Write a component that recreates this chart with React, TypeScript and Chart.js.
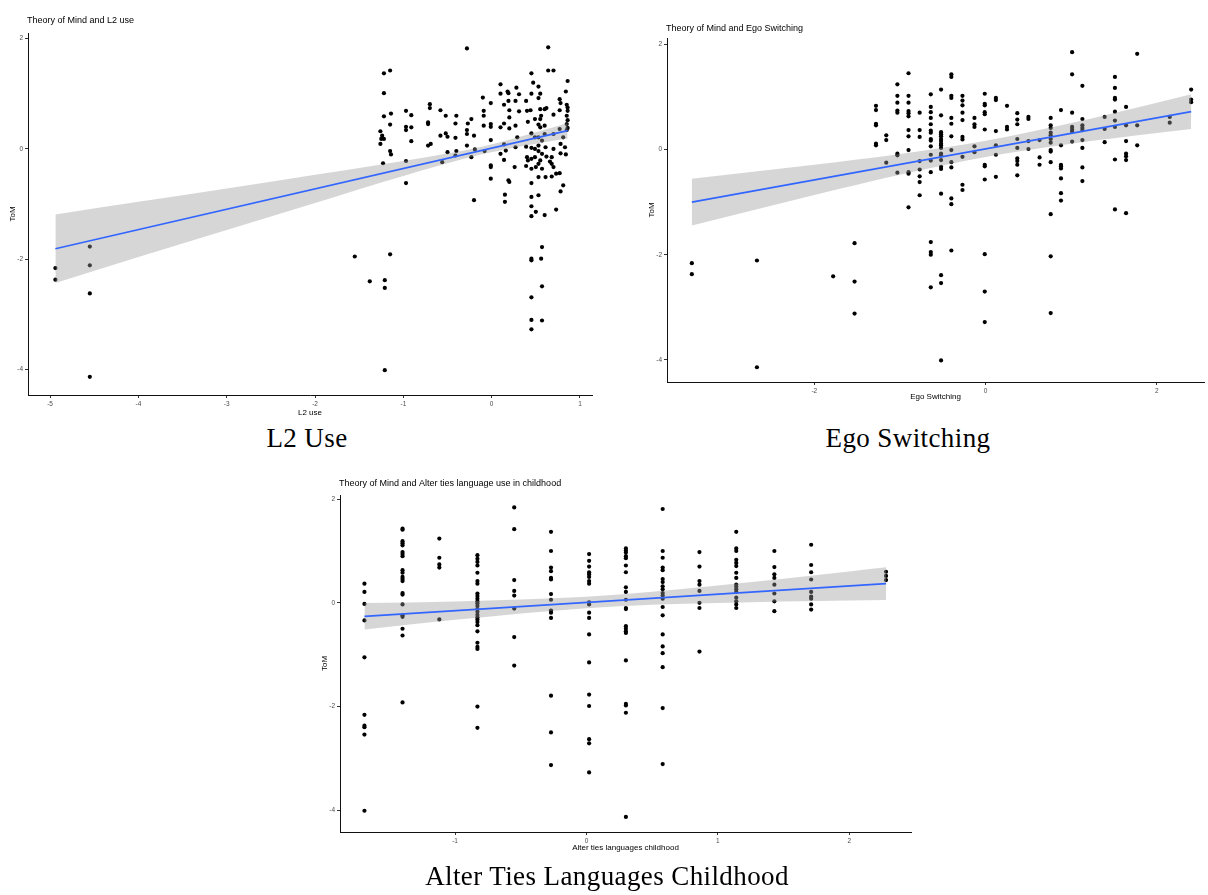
import React, { useEffect, useRef } from "react";
import { Chart, registerables } from "chart.js";

Chart.register(...registerables);

const SANS = '"Liberation Sans", Arial, sans-serif';
const SERIF = '"Liberation Serif", "DejaVu Serif", serif';

// ---------- Panel 1: L2 use ----------
const l2Points: [number, number][] = [
  [-4.94, -2.16], [-4.94, -2.37], [-4.55, -1.77], [-4.55, -2.11], [-4.55, -2.62], [-4.55, -4.13],
  [-1.55, -1.95], [-1.38, -2.4], [-1.21, -2.38], [-1.21, -2.52], [-1.21, -4.01], [-1.15, -1.91],
  [-1.22, 1.37], [-1.15, 1.42], [-1.22, 1.01], [-1.22, 0.59], [-1.14, 0.64], [-1.15, 0.44], [-1.26, 0.32],
  [-1.24, 0.24], [-1.25, 0.18], [-1.22, 0.18], [-1.26, 0.09], [-1.15, -0.04], [-1.14, -0.1], [-1.23, -0.26],
  [-0.97, 0.69], [-0.97, 0.4], [-0.97, 0.34], [-0.91, 0.61], [-0.91, 0.39], [-0.91, 0.14], [-0.97, -0.22], [-0.97, -0.62],
  [-0.7, 0.81], [-0.7, 0.74], [-0.72, 0.48], [-0.72, 0.45], [-0.72, 0.06], [-0.69, 0.09],
  [-0.58, 0.7], [-0.58, 0.24], [-0.56, -0.24],
  [-0.52, 0.6], [-0.52, 0.28], [-0.5, 0.22], [-0.5, -0.06],
  [-0.4, 0.6], [-0.41, 0.46], [-0.41, 0.2], [-0.4, -0.04], [-0.41, -0.12],
  [-0.28, 1.82], [-0.27, 0.46], [-0.28, 0.34], [-0.28, 0.27], [-0.28, 0.06],
  [-0.23, 0.54], [-0.23, -0.15], [-0.2, 0.24], [-0.19, -0.01], [-0.2, -0.93],
  [-0.1, 0.93], [-0.09, 0.69], [-0.09, 0.6], [-0.09, 0.42], [-0.08, -0.04],
  [-0.01, 0.83], [-0.01, 0.45], [-0.01, 0.4], [-0.01, 0.16], [-0.01, -0.3], [-0.01, -0.33], [-0.01, -0.54],
  [0.1, 1.17], [0.1, 1.0], [0.1, 0.39], [0.1, -0.09], [0.14, 0.8], [0.14, 0.46], [0.14, 0.08], [0.14, -0.2],
  [0.15, -0.83], [0.15, -0.96], [0.16, -0.03],
  [0.18, 1.04], [0.19, 1.01], [0.19, 0.87], [0.2, 0.7], [0.2, 0.57], [0.2, 0.37], [0.19, -0.57], [0.2, -0.6],
  [0.28, 1.11], [0.27, 0.87], [0.27, 0.42], [0.27, 0.03], [0.26, -0.33], [0.29, 0.21],
  [0.31, 0.99], [0.31, 0.68], [0.39, 0.87], [0.4, 0.69], [0.41, 0.49], [0.39, 0.04], [0.39, -0.31], [0.4, -0.15], [0.41, -0.21],
  [0.45, 1.37], [0.45, 1.0], [0.44, 0.7], [0.45, 0.28], [0.45, 0.02], [0.45, -0.18], [0.45, -0.36], [0.45, -0.62],
  [0.45, -0.87], [0.45, -1.04], [0.45, -1.22], [0.45, -1.99], [0.45, -2.02], [0.45, -2.69], [0.45, -3.1], [0.45, -3.27],
  [0.47, 1.2], [0.49, 0.54], [0.49, 0.21], [0.49, 0.0], [0.5, -0.33], [0.5, -1.14], [0.49, -0.15],
  [0.53, 1.13], [0.53, 0.92], [0.55, 1.0], [0.55, 0.72], [0.56, 0.6], [0.55, 0.54], [0.53, 0.44], [0.55, 0.39],
  [0.53, 0.21], [0.57, 0.15], [0.53, 0.06], [0.53, -0.04], [0.57, -0.09], [0.55, -0.21], [0.53, -0.27], [0.57, -0.36],
  [0.53, -0.51], [0.53, -0.84], [0.57, -1.78], [0.56, -1.99], [0.57, -2.49], [0.57, -3.11],
  [0.6, 0.72], [0.62, 0.74], [0.6, 0.42], [0.6, 0.27], [0.61, 0.03], [0.62, -0.14], [0.61, -0.51], [0.6, -1.2],
  [0.64, 1.84], [0.64, 1.42],
  [0.66, -0.23], [0.68, -0.27], [0.68, -0.15], [0.7, 1.42], [0.7, 0.62], [0.7, 0.0], [0.7, -0.33], [0.68, -0.5],
  [0.73, -0.45], [0.73, -1.1], [0.7, 0.27],
  [0.77, 0.9], [0.78, 0.83], [0.77, 0.7], [0.77, 0.36], [0.78, 0.09], [0.78, -0.08], [0.77, -0.44], [0.78, -0.77],
  [0.81, -0.66], [0.81, 0.21],
  [0.86, 1.23], [0.84, 1.04], [0.85, 0.8], [0.86, 0.75], [0.86, 0.69], [0.85, 0.6], [0.86, 0.52], [0.85, 0.45],
  [0.86, 0.38], [0.85, 0.34], [0.84, -0.1], [0.83, 0.03],
];
const l2Fit: [number, number][] = [[-4.94, -1.81], [0.86, 0.33]];
// [x, upper, lower]
const l2Band: [number, number, number][] = [
  [-4.94, -1.19, -2.43], [-4, -0.96, -1.96], [-3, -0.72, -1.47], [-2, -0.47, -0.98],
  [-1, -0.22, -0.49], [-0.1, 0.045, -0.093], [0.5, 0.3, 0.094], [0.86, 0.47, 0.19],
];

// ---------- Panel 2: Ego switching ----------
const egoColumns: [number, number[]][] = [
  [-3.43, [-2.16, -2.37]],
  [-2.67, [-2.11, -4.14]],
  [-1.78, [-2.41]],
  [-1.53, [-1.78, -2.51, -3.12]],
  [-1.28, [0.83, 0.75, 0.49, 0.46, 0.11, 0.08]],
  [-1.16, [0.27, 0.18, -0.25]],
  [-1.03, [1.24, 1.02, 0.89, 0.74, 0.7, -0.08, -0.11, -0.44]],
  [-0.9, [1.45, 1.02, 0.89, 0.73, 0.69, 0.63, 0.37, 0.25, -0.01, -0.43, -0.46, -1.1]],
  [-0.77, [0.7, 0.37, 0.24, -0.22, -0.38, -0.51, -0.62, -0.87]],
  [-0.64, [1.05, 0.81, 0.71, 0.6, 0.48, 0.36, 0.32, 0.2, 0.17, 0.06, -0.1, -0.21, -0.43, -1.76, -1.95, -2.0, -2.62]],
  [-0.52, [1.14, 0.65, 0.33, 0.29, 0.25, 0.2, 0.16, 0.11, 0.08, 0.03, -0.08, -0.11, -0.2, -0.33, -0.37, -0.84, -2.39, -2.54, -4.01]],
  [-0.4, [1.43, 1.38, 1.02, 0.98, 0.6, 0.49, 0.25, -0.01, -0.24, -0.34, -0.93, -1.04, -1.92]],
  [-0.27, [1.02, 0.93, 0.84, 0.7, 0.56, 0.24, 0.19, -0.14, -0.67, -0.77]],
  [-0.13, [0.6, 0.48, 0.43, 0.06, -0.05]],
  [-0.01, [1.06, 0.87, 0.84, 0.71, 0.67, 0.38, -0.29, -0.32, -0.57, -1.99, -2.7, -3.28]],
  [0.12, [0.98, 0.94, 0.35, 0.08, -0.1, -0.52]],
  [0.25, [0.83, 0.43, 0.38]],
  [0.37, [0.69, 0.57, 0.48, 0.2, 0.03, -0.17, -0.22, -0.29, -0.49]],
  [0.5, [0.62, 0.58, 0.16, 0.01]],
  [0.63, [0.18, -0.15, -0.29]],
  [0.76, [0.6, 0.46, 0.41, 0.32, 0.27, 0.2, 0.13, -0.01, -0.04, -0.24, -1.23, -2.03, -3.11]],
  [0.88, [0.75, 0.08, -0.29, -0.32, -0.36, -0.55, -0.83, -0.97]],
  [1.01, [1.85, 1.43, 0.7, 0.43, 0.38, 0.34, 0.15]],
  [1.13, [1.21, 0.58, 0.46, 0.41, 0.37, 0.18, 0.03, -0.34, -0.6]],
  [1.39, [0.62, 0.39, 0.14]],
  [1.51, [1.38, 1.17, 0.98, 0.95, 0.72, 0.55, 0.43, -0.19, -1.14]],
  [1.64, [0.81, 0.46, 0.16, -0.08, -0.13, -0.2, -1.21]],
  [1.77, [1.82, 0.46, 0.08]],
  [2.15, [0.62, 0.51]],
  [2.4, [1.14, 0.95, 0.9]],
];
const egoFit: [number, number][] = [[-3.43, -1.0], [2.4, 0.72]];
const egoBand: [number, number, number][] = [
  [-3.43, -0.555, -1.445], [-2, -0.29, -0.866], [-1, -0.086, -0.48], [0, 0.167, -0.143],
  [1, 0.504, 0.11], [2, 0.89, 0.314], [2.4, 1.05, 0.39],
];

// ---------- Panel 3: Alter ties languages childhood ----------
const altColumns: [number, number[]][] = [
  [-1.69, [0.37, 0.21, -0.02, -0.34, -1.05, -2.16, -2.37, -2.4, -2.54, -4.01]],
  [-1.4, [1.43, 1.41, 1.19, 1.15, 1.11, 0.98, 0.94, 0.9, 0.63, 0.58, 0.5, 0.46, 0.42, 0.19, 0.16, -0.03, -0.24, -0.27, -0.5, -0.63, -1.92]],
  [-1.12, [1.24, 0.87, 0.74, 0.68, -0.32]],
  [-0.83, [0.92, 0.85, 0.79, 0.72, 0.58, 0.42, 0.37, 0.18, 0.13, 0.08, 0.03, -0.01, -0.06, -0.12, -0.17, -0.23, -0.28, -0.32, -0.37, -0.43, -0.55, -0.77, -0.85, -0.89, -2.0, -2.41]],
  [-0.55, [1.84, 1.42, 0.44, 0.23, 0.14, -0.11, -0.66, -1.21]],
  [-0.27, [1.37, 1.0, 0.68, 0.61, 0.48, 0.45, 0.17, 0.06, -0.15, -0.19, -0.29, -1.79, -2.5, -3.13]],
  [0.02, [0.94, 0.81, 0.7, 0.59, 0.55, 0.5, 0.42, 0.37, 0.01, -0.03, -0.19, -0.29, -0.61, -1.15, -1.77, -1.99, -2.63, -2.71, -3.27]],
  [0.3, [1.05, 1.01, 0.97, 0.9, 0.86, 0.72, 0.59, 0.3, 0.21, 0.06, -0.1, -0.12, -0.45, -0.5, -0.55, -0.58, -1.11, -1.95, -1.98, -2.12, -4.13]],
  [0.58, [1.81, 1.0, 0.87, 0.68, 0.63, 0.46, 0.4, 0.32, 0.26, 0.19, 0.14, 0.08, -0.08, -0.24, -0.61, -0.84, -0.97, -1.24, -2.03, -3.11]],
  [0.86, [0.98, 0.7, 0.42, 0.35, 0.23, 0.0, -0.1, -0.94]],
  [1.14, [1.37, 1.05, 1.0, 0.83, 0.77, 0.71, 0.58, 0.48, 0.35, 0.31, 0.26, 0.21, 0.1, 0.03, -0.03, -0.1]],
  [1.43, [1.0, 0.69, 0.55, 0.48, 0.35, 0.18, 0.03, -0.16]],
  [1.71, [1.12, 0.73, 0.59, 0.45, 0.21, 0.12, 0.08, -0.03, -0.13]],
  [2.28, [0.6, 0.52, 0.44]],
];
const altFit: [number, number][] = [[-1.69, -0.26], [2.28, 0.37]];
const altBand: [number, number, number][] = [
  [-1.69, -0.005, -0.515], [-1, 0.027, -0.327], [0, 0.118, -0.102], [0.5, 0.212, -0.038],
  [1, 0.333, -0.001], [2, 0.605, 0.045], [2.28, 0.685, 0.055],
];

const yTicksStep = 2;

type Spec = {
  title: string;
  xTitle: string;
  points: [number, number][];
  fit: [number, number][];
  band: [number, number, number][];
  xMin: number; xMax: number; xStep: number;
  yMin: number; yMax: number;
  left: number; top: number; width: number; height: number;
  padTop: number; padRight: number;
  yAxisW: number; xAxisH: number; xTitlePadBottom: number; yTitlePadTop: number;
  titleDy: number;
};

const flatten = (cols: [number, number[]][]): [number, number][] =>
  cols.flatMap(([x, ys]) => ys.map((y) => [x, y] as [number, number]));

const panels: Spec[] = [
  {
    title: "Theory of Mind and L2 use", xTitle: "L2 use",
    points: l2Points, fit: l2Fit, band: l2Band,
    xMin: -5.25, xMax: 1.136, xStep: 1, yMin: -4.46, yMax: 2.1,
    left: 0, top: 0, width: 600, height: 420, padTop: 33, padRight: 8,
    yAxisW: 28, xAxisH: 25, xTitlePadBottom: 2, yTitlePadTop: 8, titleDy: 12,
  },
  {
    title: "Theory of Mind and Ego Switching", xTitle: "Ego Switching",
    points: flatten(egoColumns), fit: egoFit, band: egoBand,
    xMin: -3.72, xMax: 2.55, xStep: 2, yMin: -4.42, yMax: 2.12,
    left: 640, top: 0, width: 568, height: 420, padTop: 38, padRight: 0,
    yAxisW: 27, xAxisH: 38, xTitlePadBottom: 18, yTitlePadTop: 7, titleDy: 9,
  },
  {
    title: "Theory of Mind and Alter ties language use in childhood", xTitle: "Alter ties languages childhood",
    points: flatten(altColumns), fit: altFit, band: altBand,
    xMin: -1.876, xMax: 2.47, xStep: 1, yMin: -4.42, yMax: 2.08,
    left: 312, top: 462, width: 608, height: 400, padTop: 33, padRight: 9,
    yAxisW: 28, xAxisH: 30, xTitlePadBottom: 9, yTitlePadTop: 8, titleDy: 11,
  },
];

const captions = [
  { text: "L2 Use", cx: 307, cy: 438 },
  { text: "Ego Switching", cx: 908, cy: 438 },
  { text: "Alter Ties Languages Childhood", cx: 607, cy: 876 },
];

const ggTitle = {
  id: "ggTitle",
  afterDraw(chart: any, _args: any, opts: any) {
    const { ctx, chartArea } = chart;
    ctx.save();
    ctx.font = `9px ${SANS}`;
    ctx.fillStyle = "#000";
    ctx.textAlign = "left";
    ctx.textBaseline = "middle";
    ctx.fillText(opts.text, chartArea.left - 1, chartArea.top - opts.dy);
    ctx.restore();
  },
};

function makeConfig(s: Spec): any {
  const tickFont = { family: SANS, size: 6.5 };
  return {
    type: "scatter",
    data: {
      datasets: [
        {
          type: "line",
          data: s.fit.map(([x, y]) => ({ x, y })),
          borderColor: "#3366FF",
          borderWidth: 1.7,
          pointRadius: 0,
          fill: false,
          order: 0,
        },
        {
          type: "line",
          data: s.band.map(([x, u]) => ({ x, y: u })),
          borderColor: "rgba(0,0,0,0)",
          borderWidth: 1,
          pointRadius: 0,
          fill: false,
          cubicInterpolationMode: "monotone",
          order: 1,
        },
        {
          type: "line",
          data: s.band.map(([x, , l]) => ({ x, y: l })),
          borderColor: "rgba(0,0,0,0)",
          borderWidth: 1,
          pointRadius: 0,
          fill: "-1",
          backgroundColor: "rgba(153,153,153,0.4)",
          cubicInterpolationMode: "monotone",
          order: 1,
        },
        {
          type: "scatter",
          data: s.points.map(([x, y]) => ({ x, y })),
          backgroundColor: "#000",
          borderWidth: 0,
          pointRadius: 2.1,
          order: 2,
        },
      ],
    },
    options: {
      responsive: false,
      animation: false,
      events: [],
      layout: { padding: { top: s.padTop, right: s.padRight, bottom: 0, left: 0 } },
      plugins: {
        legend: { display: false },
        tooltip: { enabled: false },
        title: { display: false },
        ggTitle: { text: s.title, dy: s.titleDy },
      },
      scales: {
        x: {
          type: "linear",
          min: s.xMin,
          max: s.xMax,
          ticks: {
            stepSize: s.xStep,
            includeBounds: false,
            autoSkip: false,
            maxRotation: 0,
            color: "#4D4D4D",
            font: tickFont,
            padding: 2,
          },
          grid: { drawOnChartArea: false, drawTicks: true, tickLength: 3, tickColor: "#333", color: "#333" },
          border: { display: true, color: "#111", width: 1 },
          title: {
            display: true,
            text: s.xTitle,
            color: "#000",
            font: { family: SANS, size: 8 },
            padding: { top: 0, bottom: s.xTitlePadBottom },
          },
          afterFit: (scale: any) => { scale.height = s.xAxisH; },
        },
        y: {
          type: "linear",
          min: s.yMin,
          max: s.yMax,
          ticks: {
            stepSize: yTicksStep,
            includeBounds: false,
            autoSkip: false,
            color: "#4D4D4D",
            font: tickFont,
            padding: 2,
          },
          grid: { drawOnChartArea: false, drawTicks: true, tickLength: 3, tickColor: "#333", color: "#333" },
          border: { display: true, color: "#111", width: 1 },
          title: {
            display: true,
            text: "ToM",
            color: "#000",
            font: { family: SANS, size: 8 },
            padding: { top: s.yTitlePadTop, bottom: 0 },
          },
          afterFit: (scale: any) => { scale.width = s.yAxisW; },
        },
      },
    },
    plugins: [ggTitle],
  };
}

function Panel({ spec }: { spec: Spec }) {
  const ref = useRef<HTMLCanvasElement>(null);
  useEffect(() => {
    if (!ref.current) return;
    const chart = new Chart(ref.current, makeConfig(spec));
    return () => chart.destroy();
  }, [spec]);
  return (
    <canvas
      ref={ref}
      width={spec.width}
      height={spec.height}
      style={{
        position: "absolute",
        left: spec.left,
        top: spec.top,
        width: spec.width,
        height: spec.height,
      }}
    />
  );
}

export default function App() {
  return (
    <div
      style={{
        position: "fixed",
        left: 0,
        top: 0,
        width: 1208,
        height: 895,
        background: "#fff",
        overflow: "hidden",
      }}
    >
      {panels.map((p, i) => (
        <Panel key={i} spec={p} />
      ))}
      {captions.map((c, i) => (
        <div
          key={i}
          style={{
            position: "absolute",
            left: c.cx - 300,
            width: 600,
            top: c.cy - 15,
            height: 30,
            lineHeight: "30px",
            textAlign: "center",
            fontFamily: SERIF,
            fontSize: 27,
            letterSpacing: "0.4px",
            color: "#000",
            whiteSpace: "nowrap",
          }}
        >
          {c.text}
        </div>
      ))}
    </div>
  );
}
